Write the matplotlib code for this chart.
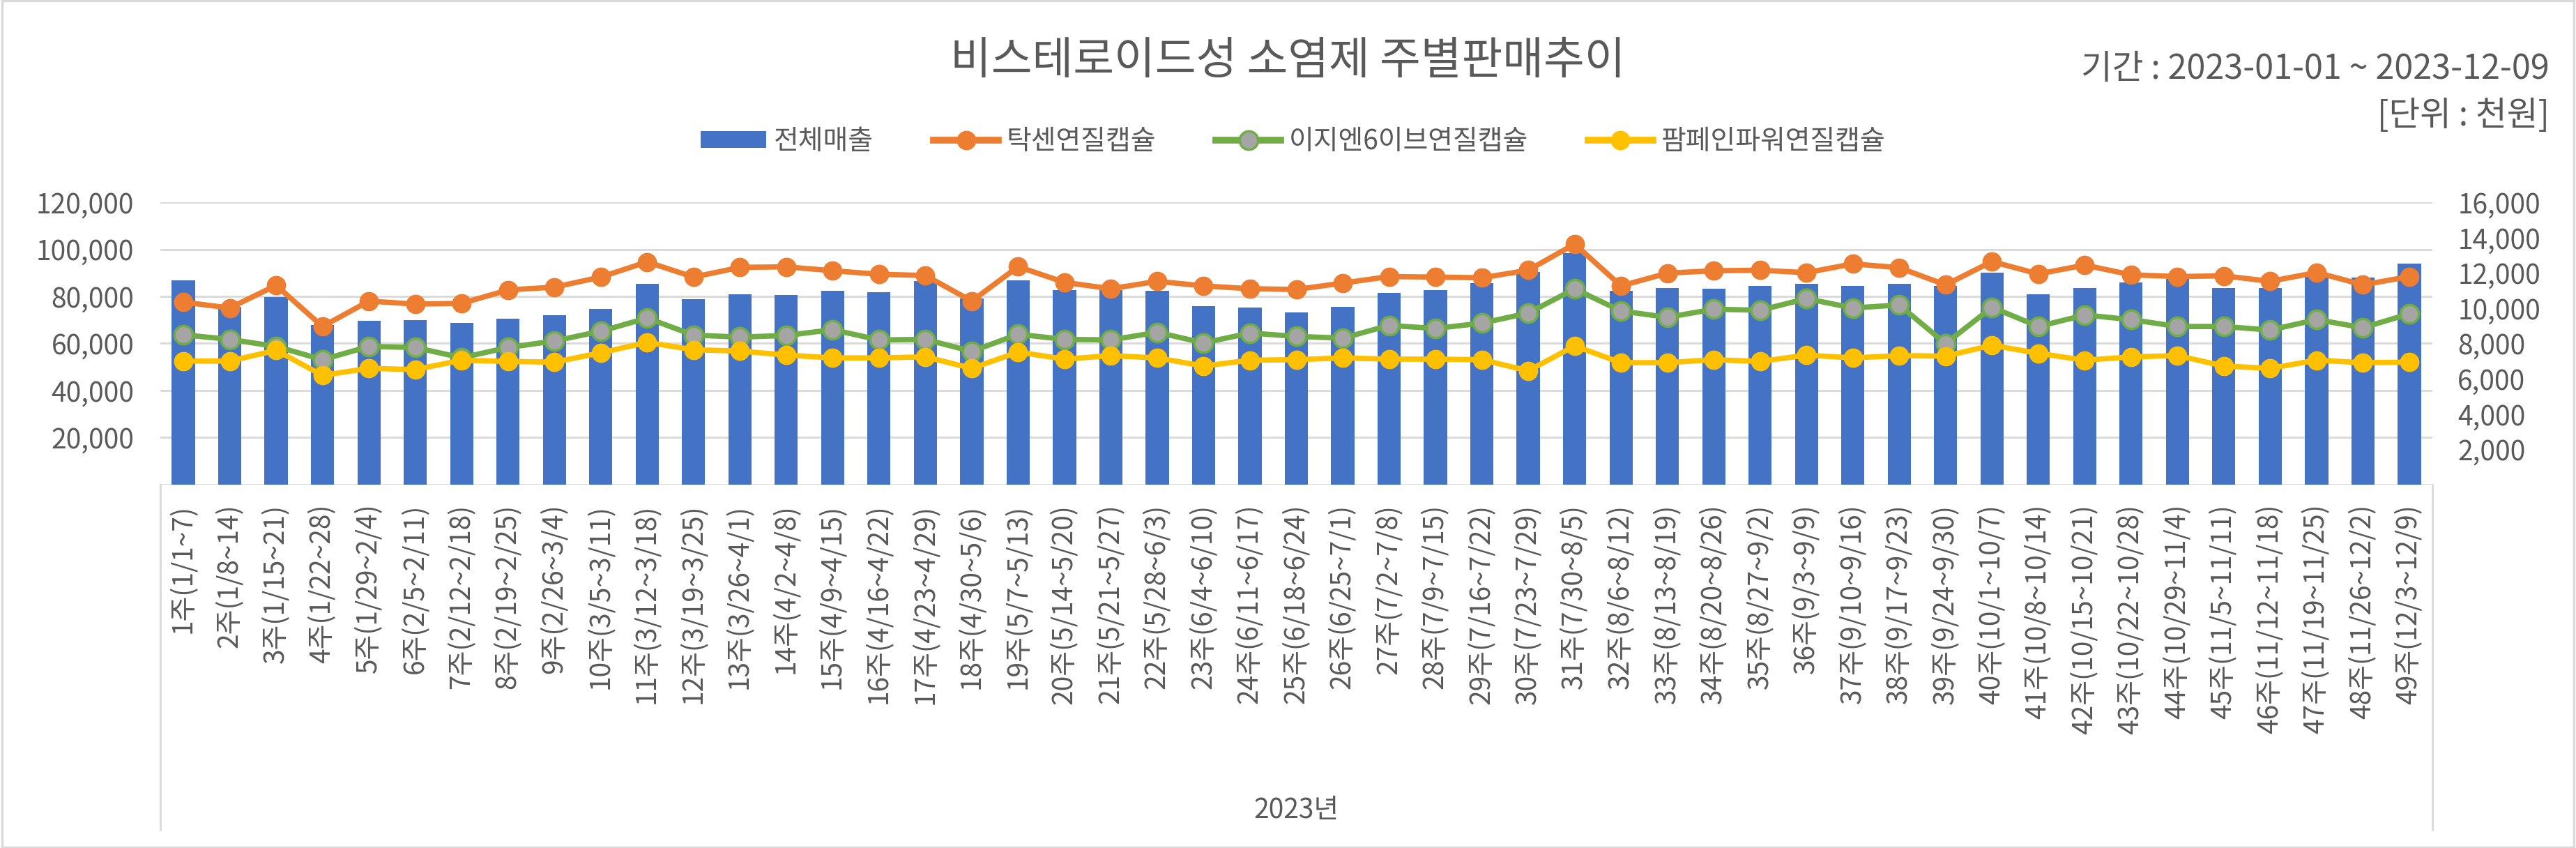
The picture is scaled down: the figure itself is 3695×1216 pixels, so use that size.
import matplotlib
matplotlib.use("Agg")
import matplotlib.pyplot as plt
from matplotlib.ticker import FuncFormatter
from matplotlib.lines import Line2D
from matplotlib.patches import Rectangle
from matplotlib.transforms import blended_transform_factory

plt.rcParams['font.family'] = ['Noto Sans CJK KR', 'DejaVu Sans']

# 주차 라벨
weeks = [
    "1주(1/1~7)", "2주(1/8~14)", "3주(1/15~21)", "4주(1/22~28)", "5주(1/29~2/4)",
    "6주(2/5~2/11)", "7주(2/12~2/18)", "8주(2/19~2/25)", "9주(2/26~3/4)", "10주(3/5~3/11)",
    "11주(3/12~3/18)", "12주(3/19~3/25)", "13주(3/26~4/1)", "14주(4/2~4/8)", "15주(4/9~4/15)",
    "16주(4/16~4/22)", "17주(4/23~4/29)", "18주(4/30~5/6)", "19주(5/7~5/13)", "20주(5/14~5/20)",
    "21주(5/21~5/27)", "22주(5/28~6/3)", "23주(6/4~6/10)", "24주(6/11~6/17)", "25주(6/18~6/24)",
    "26주(6/25~7/1)", "27주(7/2~7/8)", "28주(7/9~7/15)", "29주(7/16~7/22)", "30주(7/23~7/29)",
    "31주(7/30~8/5)", "32주(8/6~8/12)", "33주(8/13~8/19)", "34주(8/20~8/26)", "35주(8/27~9/2)",
    "36주(9/3~9/9)", "37주(9/10~9/16)", "38주(9/17~9/23)", "39주(9/24~9/30)", "40주(10/1~10/7)",
    "41주(10/8~10/14)", "42주(10/15~10/21)", "43주(10/22~10/28)", "44주(10/29~11/4)", "45주(11/5~11/11)",
    "46주(11/12~11/18)", "47주(11/19~11/25)", "48주(11/26~12/2)", "49주(12/3~12/9)",
]

# 전체매출 (왼쪽 축, 천원)
total = [86900, 75500, 79700, 67900, 69600, 69800, 68600, 70600, 72100, 74600,
         85200, 78700, 81000, 80700, 82500, 81900, 86600, 79000, 86700, 82700,
         82700, 82300, 75800, 75200, 73100, 75500, 81400, 82600, 85500, 90400,
         98500, 82300, 83500, 83200, 84300, 85200, 84300, 85200, 84500, 90100,
         80800, 83500, 85900, 87400, 83500, 83500, 88400, 87900, 93800]

# 제품별 (오른쪽 축)
taksen = [10340, 10010, 11290, 8960, 10400, 10230, 10270, 11030, 11190, 11760,
          12620, 11760, 12310, 12340, 12120, 11920, 11850, 10400, 12350, 11460,
          11100, 11520, 11260, 11100, 11060, 11420, 11790, 11760, 11720, 12150,
          13630, 11260, 11980, 12120, 12150, 12010, 12510, 12290, 11320, 12640,
          11940, 12440, 11890, 11790, 11830, 11520, 12020, 11320, 11790]
ezn6 = [8490, 8230, 7830, 7080, 7830, 7770, 7190, 7770, 8140, 8690,
        9440, 8470, 8360, 8450, 8780, 8200, 8230, 7550, 8520, 8230,
        8200, 8630, 8030, 8590, 8400, 8300, 9020, 8850, 9150, 9720,
        11090, 9840, 9480, 9940, 9880, 10540, 10010, 10180, 7990, 10050,
        8960, 9610, 9350, 8960, 8960, 8760, 9350, 8890, 9680]
pampain = [7000, 7000, 7610, 6190, 6590, 6520, 7050, 6980, 6940, 7470,
           8060, 7640, 7570, 7340, 7180, 7180, 7240, 6590, 7510, 7110,
           7310, 7180, 6720, 7050, 7080, 7180, 7110, 7110, 7080, 6450,
           7860, 6910, 6910, 7080, 6980, 7340, 7180, 7310, 7280, 7900,
           7440, 7050, 7240, 7310, 6720, 6590, 7050, 6910, 6940]

TXT = "#595959"
GRID = "#d9d9d9"

fig = plt.figure(figsize=(36.95, 12.16), dpi=100)
ax = fig.add_axes([0.0622, 0.4285, 0.8821, 0.333])
ax2 = ax.twinx()

x = list(range(len(weeks)))

ax.bar(x, total, width=0.5, color="#4472C4", label="전체매출", zorder=2)
ax.set_ylim(0, 120000)
ax.set_yticks(range(0, 120001, 20000))
ax.yaxis.set_major_formatter(FuncFormatter(lambda v, p: f"{int(v):,}" if v > 0 else ""))
ax.grid(axis='y', color=GRID, linewidth=2)
ax.set_axisbelow(True)
ax.set_xlim(-0.5, len(weeks) - 0.5)
ax.set_xticks(x, weeks, rotation=90)
ax.tick_params(axis='x', length=0, pad=20, labelsize=28, labelcolor=TXT)
ax.tick_params(axis='y', length=0, pad=27, labelsize=28, labelcolor=TXT)

lw, ms = 5.5, 19
ax2.plot(x, taksen, color="#ED7D31", lw=lw, marker='o', ms=ms, label="탁센연질캡슐", zorder=3)
ax2.plot(x, ezn6, color="#70AD47", lw=lw, marker='o', ms=ms, mfc="#A5A5A5", mec="#70AD47",
         mew=2.5, label="이지엔6이브연질캡슐", zorder=4)
ax2.plot(x, pampain, color="#FFC000", lw=lw, marker='o', ms=ms, label="팜페인파워연질캡슐", zorder=5)
ax2.set_ylim(0, 16000)
ax2.set_yticks(range(0, 16001, 2000))
ax2.yaxis.set_major_formatter(FuncFormatter(lambda v, p: f"{int(v):,}" if v > 0 else ""))
ax2.tick_params(axis='y', length=0, pad=26, labelsize=28, labelcolor=TXT)

for a in (ax, ax2):
    for s in a.spines.values():
        s.set_visible(False)

# 다단계 축 구분선
trans = blended_transform_factory(ax.transData, fig.transFigure)
for xv in (-0.5, len(weeks) - 0.5):
    ax.add_line(Line2D([xv, xv], [0.4285, 0.021], transform=trans, clip_on=False,
                       color=GRID, lw=2))
ax.text((len(weeks) - 1) / 2, 0.044, "2023년", transform=trans, ha='center', va='center',
        fontsize=28, color=TXT)

fig.text(0.5, 0.9276, "비스테로이드성 소염제 주별판매추이", ha='center', va='center',
         fontsize=46, color=TXT)
fig.text(0.9897, 0.918, "기간 : 2023-01-01 ~ 2023-12-09", ha='right', va='center',
         fontsize=35, color=TXT)
fig.text(0.9897, 0.863, "[단위 : 천원]", ha='right', va='center', fontsize=35, color=TXT)

h1, l1 = ax.get_legend_handles_labels()
h2, l2 = ax2.get_legend_handles_labels()
leg = fig.legend(h1 + h2, l1 + l2, loc='center', bbox_to_anchor=(0.502, 0.833), ncol=4,
                 frameon=False, fontsize=28, handlelength=2.4, handleheight=0.57,
                 handletextpad=0.3, columnspacing=2.2, numpoints=1)
for t in leg.get_texts():
    t.set_color(TXT)
for ln in leg.get_lines():
    ln.set_linewidth(7)

fig.patches.append(Rectangle((0.0008, 0.0012), 0.9984, 0.9976, transform=fig.transFigure,
                             fill=False, edgecolor=GRID, lw=2.5))

fig.savefig("out.png", dpi=100)
